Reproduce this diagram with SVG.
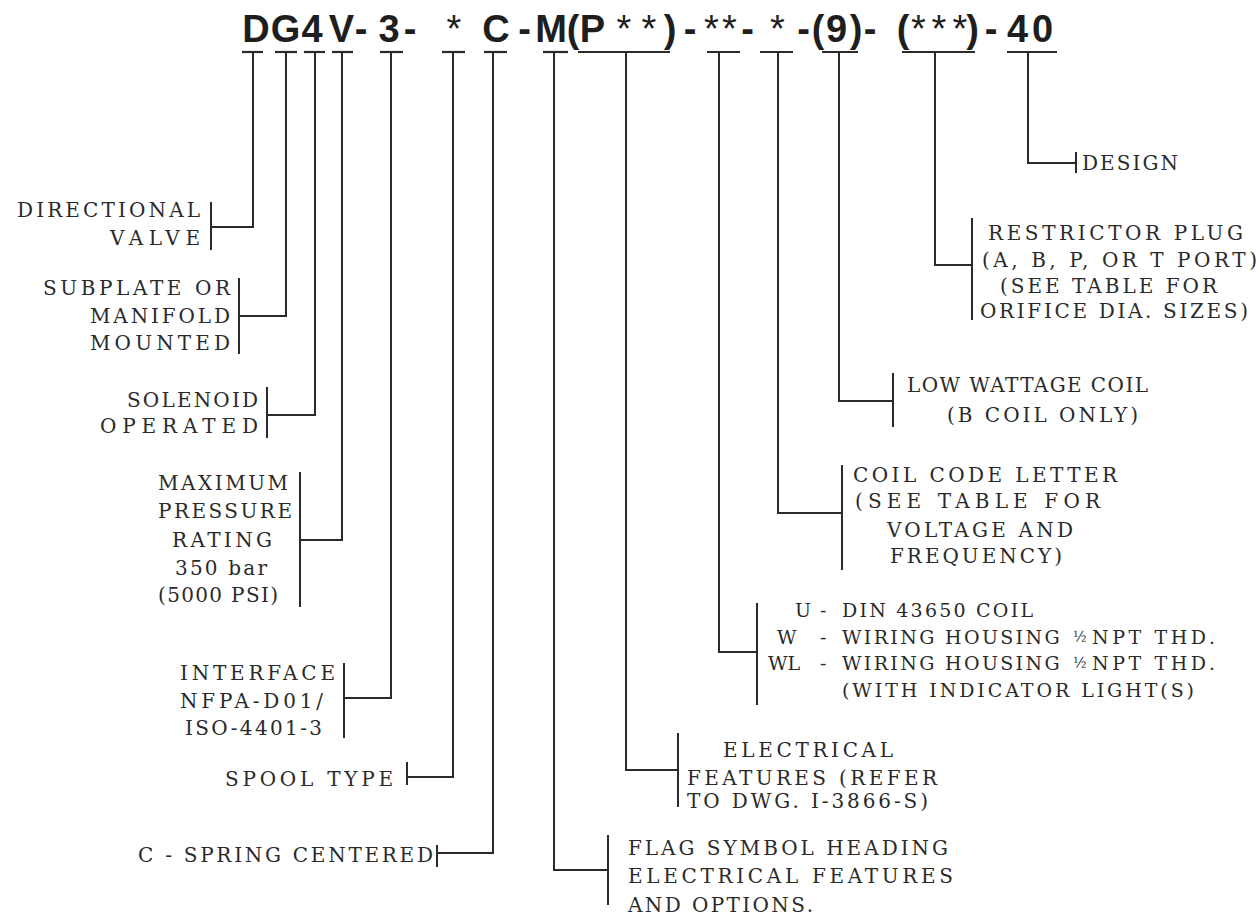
<svg xmlns="http://www.w3.org/2000/svg" width="1258" height="918" viewBox="0 0 1258 918">
<style>
.title{font-family:"Liberation Sans",Arial,sans-serif;font-weight:bold;font-size:38px;fill:#1e1e1e;text-anchor:middle}
.ast{font-weight:normal}
.lbl{font-family:"DejaVu Serif","Liberation Serif",serif;font-size:20px;fill:#2a2a2a}
.sm{font-family:"DejaVu Serif","Liberation Serif",serif;font-size:19px;fill:#2a2a2a}
.frac{font-size:14px}
.bar{stroke:#2a2a2a;stroke-width:2.2;fill:none}
.br{stroke:#2a2a2a;stroke-width:2;fill:none}
.con{stroke:#2a2a2a;stroke-width:2;fill:none}
</style>
<rect width="1258" height="918" fill="#ffffff"/>

<g id="model-code">
<text class="title" y="42"><tspan x="256 285.5 312 341.5 361 389 410">DG4V-3-</tspan><tspan class="ast" x="454">*</tspan><tspan x="496 524.5 551 573 592.5">C-M(P</tspan><tspan class="ast" x="624 649">**</tspan><tspan x="670 690">)-</tspan><tspan class="ast" x="711.5 729.5">**</tspan><tspan x="747.5">-</tspan><tspan class="ast" x="777.5">*</tspan><tspan x="803.5 818 836.5 856 870 903">-(9)-(</tspan><tspan class="ast" x="918.5 939 960">***</tspan><tspan x="972.5 991 1017.5 1042.5">)-40</tspan></text>
<g class="bar">
<line x1="242" y1="52" x2="263" y2="52"/>
<line x1="275" y1="52" x2="297" y2="52"/>
<line x1="304" y1="52" x2="325" y2="52"/>
<line x1="332" y1="52" x2="353" y2="52"/>
<line x1="380" y1="52" x2="403" y2="52"/>
<line x1="442" y1="52" x2="465" y2="52"/>
<line x1="484" y1="52" x2="507" y2="52"/>
<line x1="543" y1="52" x2="568" y2="52"/>
<line x1="578" y1="52" x2="670" y2="52"/>
<line x1="707" y1="52" x2="740" y2="52"/>
<line x1="760" y1="52" x2="793" y2="52"/>
<line x1="822" y1="52" x2="858" y2="52"/>
<line x1="902" y1="52" x2="975" y2="52"/>
<line x1="1007" y1="52" x2="1057" y2="52"/>
</g>
</g>

<g id="connectors" class="con">
<path d="M253,52 V227 H211"/>
<path d="M286,52 V316 H239"/>
<path d="M315,52 V415 H267"/>
<path d="M342,52 V540 H300"/>
<path d="M391,52 V698 H344"/>
<path d="M453,52 V777 H407"/>
<path d="M493,52 V853 H437"/>
<path d="M554,52 V870 H608"/>
<path d="M626,52 V770 H678"/>
<path d="M719,52 V652 H757"/>
<path d="M778,52 V513 H842"/>
<path d="M839,52 V401 H893"/>
<path d="M935,52 V265 H972"/>
<path d="M1028,52 V163 H1076"/>
</g>

<g id="directional-valve">
<line class="br" x1="211" y1="202" x2="211" y2="250"/>
<text class="lbl" x="17" y="217" textLength="183" lengthAdjust="spacing">DIRECTIONAL</text>
<text class="lbl" x="110" y="245" textLength="90" lengthAdjust="spacing">VALVE</text>
</g>

<g id="subplate">
<line class="br" x1="239" y1="278" x2="239" y2="354"/>
<text class="lbl" x="43" y="295" textLength="187" lengthAdjust="spacing">SUBPLATE OR</text>
<text class="lbl" x="90" y="323" textLength="140" lengthAdjust="spacing">MANIFOLD</text>
<text class="lbl" x="90" y="350" textLength="140" lengthAdjust="spacing">MOUNTED</text>
</g>

<g id="solenoid">
<line class="br" x1="267" y1="387" x2="267" y2="438"/>
<text class="lbl" x="127" y="407" textLength="131" lengthAdjust="spacing">SOLENOID</text>
<text class="lbl" x="100" y="433" textLength="158" lengthAdjust="spacing">OPERATED</text>
</g>

<g id="pressure-rating">
<line class="br" x1="300" y1="472" x2="300" y2="607"/>
<text class="lbl" x="158" y="490" textLength="130" lengthAdjust="spacing">MAXIMUM</text>
<text class="lbl" x="158" y="518" textLength="134" lengthAdjust="spacing">PRESSURE</text>
<text class="lbl" x="172" y="547" textLength="100" lengthAdjust="spacing">RATING</text>
<text class="lbl" x="175" y="575" textLength="92" lengthAdjust="spacing">350 bar</text>
<text class="lbl" x="158" y="602" textLength="120" lengthAdjust="spacing">(5000 PSI)</text>
</g>

<g id="interface">
<line class="br" x1="344" y1="663" x2="344" y2="738"/>
<text class="lbl" x="180" y="680" textLength="155" lengthAdjust="spacing">INTERFACE</text>
<text class="lbl" x="180" y="708" textLength="143" lengthAdjust="spacing">NFPA-D01/</text>
<text class="lbl" x="185" y="735" textLength="137" lengthAdjust="spacing">ISO-4401-3</text>
</g>

<g id="spool-type">
<line class="br" x1="407" y1="762" x2="407" y2="785"/>
<text class="lbl" x="225" y="786" textLength="168" lengthAdjust="spacing">SPOOL TYPE</text>
</g>

<g id="spring-centered">
<line class="br" x1="437" y1="845" x2="437" y2="867"/>
<text class="lbl" x="138" y="862" textLength="295" lengthAdjust="spacing">C - SPRING CENTERED</text>
</g>

<g id="flag-symbol">
<line class="br" x1="608" y1="835" x2="608" y2="905"/>
<text class="lbl" x="628" y="855" textLength="320" lengthAdjust="spacing">FLAG SYMBOL HEADING</text>
<text class="lbl" x="628" y="883" textLength="325" lengthAdjust="spacing">ELECTRICAL FEATURES</text>
<text class="lbl" x="628" y="912" textLength="185" lengthAdjust="spacing">AND OPTIONS.</text>
</g>

<g id="electrical-features">
<line class="br" x1="678" y1="733" x2="678" y2="807"/>
<text class="lbl" x="723" y="757" textLength="170" lengthAdjust="spacing">ELECTRICAL</text>
<text class="lbl" x="687" y="785" textLength="250" lengthAdjust="spacing">FEATURES (REFER</text>
<text class="lbl" x="687" y="808" textLength="241" lengthAdjust="spacing">TO DWG. I-3866-S)</text>
</g>

<g id="coil-connection">
<line class="br" x1="757" y1="603" x2="757" y2="705"/>
<text class="sm" y="617"><tspan x="795">U </tspan><tspan x="820">- </tspan><tspan x="842" textLength="191" lengthAdjust="spacing">DIN 43650 COIL</tspan></text>
<text class="sm" y="644"><tspan x="777">W </tspan><tspan x="820">- </tspan><tspan x="842" textLength="226" lengthAdjust="spacing">WIRING HOUSING </tspan><tspan x="1073" class="frac" dy="-2">½</tspan><tspan x="1092" dy="2" textLength="123" lengthAdjust="spacing">NPT THD.</tspan></text>
<text class="sm" y="670"><tspan x="768">WL </tspan><tspan x="820">- </tspan><tspan x="842" textLength="226" lengthAdjust="spacing">WIRING HOUSING </tspan><tspan x="1073" class="frac" dy="-2">½</tspan><tspan x="1092" dy="2" textLength="123" lengthAdjust="spacing">NPT THD.</tspan></text>
<text class="sm" x="842" y="697" textLength="352" lengthAdjust="spacing">(WITH INDICATOR LIGHT(S)</text>
</g>

<g id="coil-code">
<line class="br" x1="842" y1="465" x2="842" y2="570"/>
<text class="lbl" x="853" y="482" textLength="264" lengthAdjust="spacing">COIL CODE LETTER</text>
<text class="lbl" x="855" y="508" textLength="245" lengthAdjust="spacing">(SEE TABLE FOR</text>
<text class="lbl" x="887" y="537" textLength="186" lengthAdjust="spacing">VOLTAGE AND</text>
<text class="lbl" x="890" y="563" textLength="172" lengthAdjust="spacing">FREQUENCY)</text>
</g>

<g id="low-wattage">
<line class="br" x1="893" y1="373" x2="893" y2="427"/>
<text class="lbl" x="907" y="392" textLength="241" lengthAdjust="spacing">LOW WATTAGE COIL</text>
<text class="lbl" x="947" y="422" textLength="191" lengthAdjust="spacing">(B COIL ONLY)</text>
</g>

<g id="restrictor-plug">
<line class="br" x1="972" y1="218" x2="972" y2="320"/>
<text class="lbl" x="988" y="240" textLength="255" lengthAdjust="spacing">RESTRICTOR PLUG</text>
<text class="lbl" x="982" y="267" textLength="275" lengthAdjust="spacing">(A, B, P, OR T PORT)</text>
<text class="lbl" x="1000" y="293" textLength="217" lengthAdjust="spacing">(SEE TABLE FOR</text>
<text class="lbl" x="980" y="318" textLength="268" lengthAdjust="spacing">ORIFICE DIA. SIZES)</text>
</g>

<g id="design">
<line class="br" x1="1076" y1="152" x2="1076" y2="173"/>
<text class="lbl" x="1082" y="170" textLength="96" lengthAdjust="spacing">DESIGN</text>
</g>
</svg>
